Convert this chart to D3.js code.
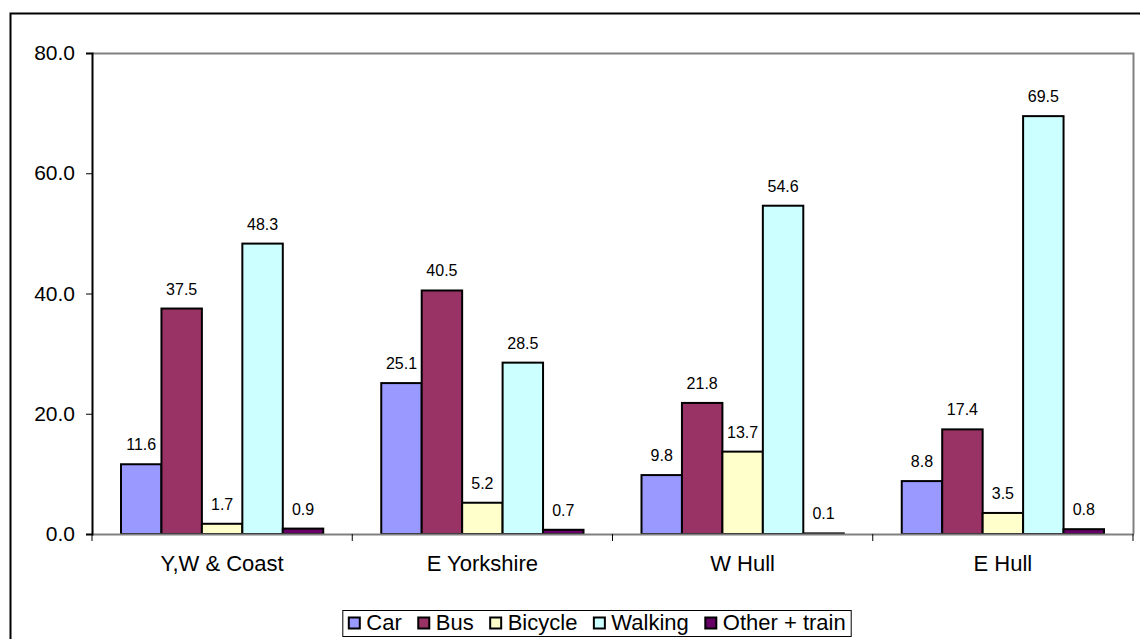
<!DOCTYPE html>
<html>
<head>
<meta charset="utf-8">
<script src="https://cdn.jsdelivr.net/npm/d3@7"></script>
<style>
  body { margin: 0; background: #fff; }
  svg { font-family: "Liberation Sans", Arial, sans-serif; }
</style>
</head>
<body>
<div id="chart"></div>
<script>
// data
const categories = ["Y,W & Coast", "E Yorkshire", "W Hull", "E Hull"];
const seriesNames = ["Car", "Bus", "Bicycle", "Walking", "Other + train"];
const seriesColors = ["#9999FF", "#993366", "#FFFFCC", "#CCFFFF", "#660066"];
const car = [11.6, 25.1, 9.8, 8.8];
const bus = [37.5, 40.5, 21.8, 17.4];
const bicycle = [1.7, 5.2, 13.7, 3.5];
const walking = [48.3, 28.5, 54.6, 69.5];
const other = [0.9, 0.7, 0.1, 0.8];
const yTicks = [0, 20, 40, 60, 80];

const seriesValues = [car, bus, bicycle, walking, other];

const width = 1140, height = 639;
const plot = { left: 92, top: 53, right: 1133, bottom: 534 };

const svg = d3.select("#chart")
  .append("svg")
  .attr("width", width)
  .attr("height", height);

//outer chart border (runs off the right and bottom)
svg.append("rect")
  .attr("x", 10.5).attr("y", 13.5)
  .attr("width", 1200).attr("height", 700)
  .attr("fill", "none")
  .attr("stroke", "#000")
  .attr("stroke-width", 2);

const x0 = d3.scaleBand()
  .domain(categories)
  .range([plot.left, plot.right])
  .paddingInner(0)
  .paddingOuter(0);

const x1 = d3.scaleBand()
  .domain(seriesNames)
  .range([29, x0.bandwidth() - 29]);

const y = d3.scaleLinear()
  .domain([0, 80])
  .range([plot.bottom, plot.top]);

//plot area border (top + right grey)
svg.append("path")
  .attr("d", `M${plot.left},${plot.top + 0.5}H${plot.right + 0.5}V${plot.bottom}`)
  .attr("fill", "none")
  .attr("stroke", "#808080")
  .attr("stroke-width", 2);

//bars
const groups = svg.selectAll(".grp")
  .data(categories)
  .enter()
  .append("g")
  .attr("class", "grp")
  .attr("transform", (d) => `translate(${x0(d)},0)`);

groups.each(function (cat, ci) {
  const g = d3.select(this);
  seriesNames.forEach(function (s, si) {
    const v = seriesValues[si][ci];
    g.append("rect")
      .attr("x", x1(s))
      .attr("y", y(v))
      .attr("width", x1.bandwidth())
      .attr("height", y(0) - y(v))
      .attr("fill", seriesColors[si])
      .attr("stroke", "#000")
      .attr("stroke-width", 2);
    g.append("text")
      .attr("x", x1(s) + x1.bandwidth() / 2)
      .attr("y", y(v) - 14)
      .attr("text-anchor", "middle")
      .attr("font-size", 16)
      .text(v.toFixed(1));
  });
});

//x axis
const xAxis = svg.append("g").attr("transform", `translate(0,${plot.bottom})`);
xAxis.append("line")
  .attr("x1", plot.left).attr("x2", plot.right + 1)
  .attr("y1", 0.5).attr("y2", 0.5)
  .attr("stroke", "#808080").attr("stroke-width", 2);
const bounds = categories.map((c) => x0(c)).concat([plot.right]);
xAxis.selectAll(".xt")
  .data(bounds)
  .enter()
  .append("line")
  .attr("x1", (d) => d).attr("x2", (d) => d)
  .attr("y1", 0).attr("y2", 7)
  .attr("stroke", "#000").attr("stroke-width", 1);
xAxis.selectAll(".xl")
  .data(categories)
  .enter()
  .append("text")
  .attr("x", (d) => x0(d) + x0.bandwidth() / 2)
  .attr("y", 37)
  .attr("text-anchor", "middle")
  .attr("font-size", 22)
  .text((d) => d);

//y axis
const yAxis = svg.append("g")
  .attr("transform", `translate(${plot.left},0)`)
  .call(d3.axisLeft(y).tickValues(yTicks).tickFormat(d3.format(".1f")).tickSize(6).tickPadding(11));
yAxis.select(".domain").attr("stroke", "#000").attr("stroke-width", 2);
yAxis.selectAll(".tick line").attr("stroke", "#000");
yAxis.selectAll(".tick text")
  .attr("font-size", 21)
  .attr("font-family", "'Liberation Sans', Arial, sans-serif")
  .attr("fill", "#000");

//legend
const legend = svg.append("g");
const legendBox = legend.append("rect")
  .attr("fill", "#fff")
  .attr("stroke", "#000")
  .attr("stroke-width", 1);
let lx = 0;
seriesNames.forEach(function (s, i) {
  legend.append("rect")
    .attr("x", lx + 0.5).attr("y", -12.5)
    .attr("width", 11).attr("height", 11)
    .attr("fill", seriesColors[i])
    .attr("stroke", "#000")
    .attr("stroke-width", 2);
  const t = legend.append("text")
    .attr("x", lx + 18)
    .attr("y", 0)
    .attr("font-size", 22)
    .text(s);
  lx += 18 + t.node().getComputedTextLength() + 16;
});
const legendW = lx - 16;
const legendX = (336 + 858) / 2 - legendW / 2;
legend.attr("transform", `translate(${legendX},630)`);
legendBox
  .attr("x", -5.5).attr("y", -19.5)
  .attr("width", legendW + 11).attr("height", 26);
</script>
</body>
</html>
